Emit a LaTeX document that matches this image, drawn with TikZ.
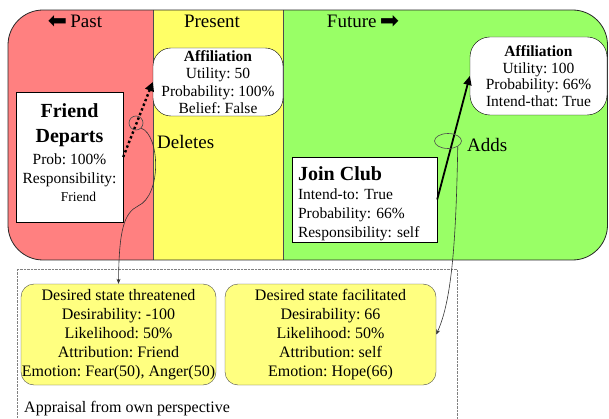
\documentclass[tikz,border=0pt]{standalone}
\usepackage{fontspec}
\usepackage{graphicx}
\setmainfont{Liberation Serif}
\newfontfamily\arrowfont{DejaVu Sans}
\usetikzlibrary{arrows.meta,shapes.geometric}
\frenchspacing

\definecolor{pastred}{RGB}{255,128,128}
\definecolor{nowyellow}{RGB}{255,255,102}
\definecolor{futgreen}{RGB}{153,255,102}
\definecolor{apprsoft}{RGB}{255,255,128}

\newcommand{\hdfont}{\fontsize{19}{21}\selectfont}
\newcommand{\smfont}{\fontsize{15.5}{17.5}\selectfont}
\newcommand{\ttlfont}{\fontsize{20}{22}\selectfont\bfseries}
\newcommand{\apfont}{\fontsize{16}{19}\selectfont}
\newcommand{\fatarrow}{\raisebox{-1pt}{\arrowfont\fontsize{23}{24}\selectfont ➡}}

\tikzset{
  goalbox/.style={draw, fill=white, rounded corners=18, align=center, inner sep=0pt, font=\smfont},
  eventbox/.style={draw, fill=white, inner sep=0pt},
  apprbox/.style={draw=black!70, fill=apprsoft, rounded corners=13, align=center, inner sep=0pt, font=\apfont},
  link/.style={line width=0.6pt, black!80},
  marker/.style={draw=black!70, line width=0.6pt, inner sep=0pt},
}

\begin{document}
\begin{tikzpicture}[x=1pt, y=-1pt]
  \useasboundingbox (0,0) rectangle (609,419);
  % time line
  \begin{scope}
    \clip[rounded corners=35] (8,10) rectangle (607.5,260);
    \fill[pastred] (8,10) rectangle (153,260);
    \fill[nowyellow] (153,10) rectangle (283,260);
    \fill[futgreen] (283,10) rectangle (607.5,260);
  \end{scope}
  \draw[black!70] (153,10) -- (153,260) (283,10) -- (283,260);
  \draw[black!85, line width=0.8pt, rounded corners=35] (8,10) rectangle (607.5,260);
  \node[font=\hdfont, anchor=base] (pastlbl) at (75,28) {\reflectbox{\fatarrow}\,Past};
  \node[font=\hdfont, anchor=base] (nowlbl) at (212,28) {Present};
  \node[font=\hdfont, anchor=base] (futlbl) at (363,28) {Future\,\fatarrow};

  % appraisal frame
  \draw[gray, densely dotted] (17,419) |- (457,269) -- (457,419);

  % goals and events
  \node[goalbox, minimum width=130, minimum height=68] (affilNow) at (218,82)
    {\textbf{Affiliation}\\Utility: 50\\Probability: 100\%\\Belief: False};
  \node[goalbox, minimum width=137, minimum height=78, rounded corners=20,
    font=\fontsize{15.5}{16.5}\selectfont] (affilFut) at (538.5,76)
    {\textbf{Affiliation}\\Utility: 100\\Probability: 66\%\\Intend-that: True};
  \node[eventbox, minimum width=107, minimum height=130, align=center, font=\smfont] (departs) at (69.5,157)
    {{\ttlfont Friend}\\[8pt]{\ttlfont Departs}\\[4.5pt]Prob: 100\%\\[1.5pt]Responsibility:\\
     \hspace*{18pt}{\fontsize{13.5}{15}\selectfont Friend}\rule[-9pt]{0pt}{9pt}};
  \node[eventbox, minimum width=145, minimum height=85, align=left, text width=133,
    font=\fontsize{15.5}{19}\selectfont] (joinclub) at (364.5,199.5)
    {\rule{0pt}{21.5pt}{\ttlfont Join Club}\\Intend-to: True\\Probability: 66\%\\Responsibility: self};

  % appraisals
  \node[apprbox, minimum width=195, minimum height=101] (threatened) at (118.5,334.5)
    {Desired state threatened\\Desirability: -100\\Likelihood: 50\%\\Attribution: Friend\\Emotion: Fear(50), Anger(50)};
  \node[apprbox, minimum width=211, minimum height=101] (facilitated) at (330.5,334.5)
    {Desired state facilitated\\Desirability: 66\\Likelihood: 50\%\\Attribution: self\\Emotion: Hope(66)};
  \node[font=\apfont, anchor=base west, inner sep=0pt] (apprlbl) at (24,412) {Appraisal from own perspective};

  % effects
  \draw[line width=2.4pt, dash pattern=on 2.4pt off 2.6pt, -{Triangle[length=9, width=9]}] (departs.east) -- (affilNow.west);
  \draw[line width=1.8pt, -{Triangle[length=9, width=8]}] (joinclub.east) -- (affilFut.west);
  \node[marker, circle, minimum size=14] (delmark) at (136,123) {};
  \node[marker, ellipse, minimum width=27, minimum height=15] (addmark) at (448,141) {};
  \node[font=\hdfont, anchor=base west, inner sep=0pt] (dellbl) at (157,149) {Deletes};
  \node[font=\hdfont, anchor=base west, inner sep=0pt] (addlbl) at (467,152) {Adds};

  \draw[link, -{Stealth[length=5, width=4]}] (delmark.south east)
    .. controls (160,135) and (162,195) .. (138,206)
    .. controls (124,213) and (119,230) .. (threatened.north);
  \draw[link, -{Stealth[length=5, width=4]}] (addmark.south east)
    .. controls (456,240) and (452,300) .. (facilitated.east);
\end{tikzpicture}
\end{document}
